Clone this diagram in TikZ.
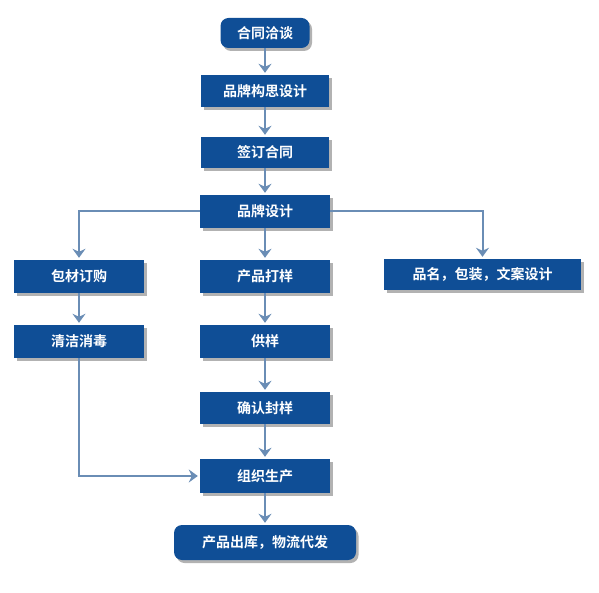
\documentclass[tikz,border=0pt]{standalone}
\usepackage{fontspec}
\newfontfamily\cjk{Noto Sans CJK SC Bold}
\usetikzlibrary{arrows.meta,shadows}
\definecolor{boxblue}{HTML}{0F4E96}
\definecolor{arrowblue}{HTML}{6A8DB5}
\tikzset{
  x=1pt, y=-1pt,
  stepbox/.style={fill=boxblue, text=white, font=\cjk\fontsize{14}{16}\selectfont,
    inner sep=0pt, minimum height=32pt,
    drop shadow={shadow xshift=2.5pt, shadow yshift=-3pt, fill=black, opacity=0.3}},
  termbox/.style={stepbox, rounded corners=8pt},
  conn/.style={draw=arrowblue, line width=2pt, shorten >=2pt,
    -{Stealth[length=9pt,width=13pt,inset=3pt]}}
}
\begin{document}
\begin{tikzpicture}
\useasboundingbox (0,0) rectangle (599,593);
\node[termbox, minimum width=89pt, minimum height=30pt] (ht) at (265,33) {合同洽谈};
\node[stepbox, minimum width=128pt] (gs) at (265,91) {品牌构思设计};
\node[stepbox, minimum width=128pt, minimum height=31pt] (qd) at (265,152.5) {签订合同};
\node[stepbox, minimum width=130pt, minimum height=33pt] (pp) at (265,211.5) {品牌设计};
\node[stepbox, minimum width=130pt, minimum height=33pt] (bc) at (79,276.5) {包材订购};
\node[stepbox, minimum width=130pt, minimum height=33pt] (cp) at (265,276.5) {产品打样};
\node[stepbox, minimum width=197pt, minimum height=31pt] (pm) at (482.5,274.5) {品名，包装，文案设计};
\node[stepbox, minimum width=130pt, minimum height=33pt] (qj) at (79,341.5) {清洁消毒};
\node[stepbox, minimum width=130pt, minimum height=33pt] (gy) at (265,341.5) {供样};
\node[stepbox, minimum width=130pt, minimum height=32pt] (qr) at (265,408) {确认封样};
\node[stepbox, minimum width=130pt, minimum height=34pt] (zz) at (265,476) {组织生产};
\node[termbox, minimum width=182pt, minimum height=35pt] (ck) at (265,542.5) {产品出库，物流代发};
\draw[conn] (ht) -- (gs);
\draw[conn] (gs) -- (qd);
\draw[conn] (qd) -- (pp);
\draw[conn] (pp) -- (cp);
\draw[conn] (pp.west) -| (bc.north);
\draw[conn] (pp.east) -| (pm.north);
\draw[conn] (bc) -- (qj);
\draw[conn] (cp) -- (gy);
\draw[conn] (gy) -- (qr);
\draw[conn] (qr) -- (zz);
\draw[conn] (qj.south) |- (zz.west);
\draw[conn] (zz) -- (ck);
\end{tikzpicture}
\end{document}
